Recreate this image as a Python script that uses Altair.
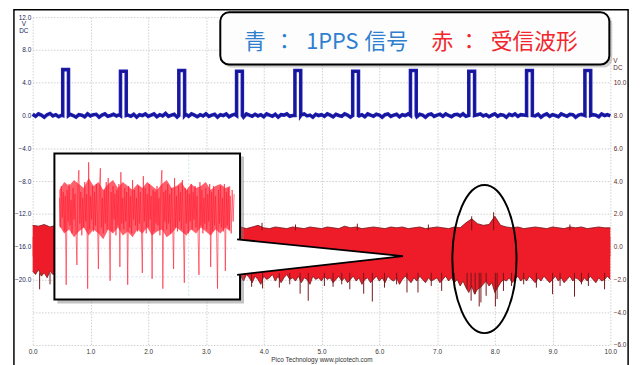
import altair as alt
import pandas as pd

# ---------------- data ----------------
time_ticks = [0, 1, 2, 3, 4, 5, 6, 7, 8, 9, 10]
left_ticks = [12, 8, 4, 0, -4, -8, -12, -16, -20, -24, -28]
right_ticks = [10, 8, 6, 4, 2, 0, -2, -4, -6]

# blue: 1PPS signal (left axis, V), baseline samples every 0.05 s
blue_step = 0.05
blue_base = [
    0.15, -0.10, 0.20, 0.05, -0.20, 0.10, 0.25, -0.05, 0.10, -0.15,
    0.05, 0.20, -0.10, 0.15, 0.00, -0.20, 0.10, 0.05, -0.15, 0.20,
    -0.05, 0.10, 0.15, -0.20, 0.05, 0.20, -0.10, 0.00, 0.15, -0.05,
    0.10, -0.15, 0.20, 0.05, -0.10, 0.15, -0.20, 0.10, 0.00, 0.20,
    -0.10, 0.05, 0.20, -0.15, 0.10, -0.05, 0.25, -0.10, 0.05, 0.15,
    -0.20, 0.10, 0.00, 0.15, -0.10, 0.20, 0.05, -0.15, 0.10, -0.05,
    0.20, -0.10, 0.05, 0.15, -0.20, 0.10, 0.00, 0.20, -0.15, 0.05,
    0.15, -0.05, 0.10, -0.20, 0.20, 0.05, -0.10, 0.15, -0.05, 0.10,
    -0.15, 0.20, 0.05, -0.10, 0.15, -0.20, 0.10, 0.05, 0.20, -0.10,
    0.00, 0.15, -0.15, 0.10, 0.20, -0.05, 0.05, -0.20, 0.15, 0.00,
    0.10, -0.10, 0.20, 0.05, -0.15, 0.15, 0.00, -0.10, 0.20, 0.05,
    -0.20, 0.10, 0.15, -0.05, 0.10, -0.15, 0.20, 0.05, -0.10, 0.15,
    0.05, -0.20, 0.10, 0.20, -0.10, 0.05, 0.15, -0.15, 0.10, 0.00,
    0.20, -0.05, 0.10, -0.15, 0.15, 0.05, -0.20, 0.10, 0.20, -0.10,
    0.05, 0.15, -0.10, 0.20, 0.00, -0.15, 0.10, 0.15, -0.05, 0.20,
    -0.10, 0.05, 0.15, -0.20, 0.10, 0.20, -0.05, 0.10, -0.15, 0.05,
    0.20, -0.10, 0.10, 0.05, -0.20, 0.15, 0.00, 0.20, -0.10, 0.10,
    0.05, -0.15, 0.20, 0.10, -0.05, 0.15, -0.20, 0.05, 0.20, -0.10,
    0.10, 0.00, -0.15, 0.20, 0.05, -0.10, 0.15, 0.10, -0.20, 0.05,
    0.15, -0.05, 0.20, -0.10, 0.10, 0.05, -0.15, 0.20, 0.00, 0.10,
    -0.05,
]
pulse_start = [0.52, 1.52, 2.53, 3.53, 4.54, 5.54, 6.54, 7.55, 8.55, 9.56]
pulse_width = 0.10
pulse_top = [5.6, 5.4, 5.5, 5.4, 5.5, 5.4, 5.5, 5.4, 5.5, 5.5]

# red: received waveform (right axis, V)
red_top_step = 0.1
red_top = [
    1.30, 1.25, 1.35, 1.20, 1.30, 1.25, 1.20, 1.30, 1.25, 1.20,
    1.20, 1.25, 1.15, 1.20, 1.30, 1.20, 1.15, 1.25, 1.20, 1.15,
    1.20, 1.15, 1.25, 1.20, 1.15, 1.20, 1.25, 1.15, 1.20, 1.20,
    1.15, 1.20, 1.25, 1.15, 1.20, 1.15, 1.20, 1.10, 1.20, 1.30,
    1.15, 1.10, 1.20, 1.15, 1.10, 1.20, 1.15, 1.10, 1.20, 1.15,
    1.10, 1.20, 1.15, 1.10, 1.25, 1.15, 1.20, 1.10, 1.15, 1.20,
    1.15, 1.10, 1.20, 1.15, 1.20, 1.10, 1.15, 1.20, 1.10, 1.15,
    1.20, 1.15, 1.10, 1.20, 1.15, 1.45, 1.70, 1.40, 1.30, 1.35,
    1.85, 1.30, 1.20, 1.15, 1.20, 1.10, 1.15, 1.20, 1.15, 1.10,
    1.20, 1.15, 1.10, 1.20, 1.15, 1.20, 1.10, 1.15, 1.20, 1.15,
    1.15,
]
red_bot_step = 0.05
red_bot = [
    -1.5, -1.7, -1.4, -1.8, -1.6, -1.9, -1.5, -1.7, -1.6, -1.8,
    -1.6, -1.9, -1.7, -1.5, -1.8, -1.7, -2.0, -1.6, -1.8, -1.7,
    -1.8, -1.6, -1.9, -1.7, -1.8, -1.6, -2.0, -1.7, -1.8, -1.9,
    -1.7, -1.9, -1.6, -1.8, -2.0, -1.7, -1.8, -1.6, -1.9, -1.7,
    -1.8, -1.7, -2.0, -1.6, -1.9, -1.8, -1.7, -2.0, -1.6, -1.8,
    -1.9, -1.7, -1.8, -2.0, -1.6, -1.8, -1.9, -1.7, -1.8, -1.6,
    -1.8, -2.0, -1.7, -1.9, -1.6, -1.8, -2.0, -1.7, -1.9, -1.8,
    -1.7, -1.9, -1.8, -2.1, -1.7, -1.9, -2.2, -1.8, -2.0, -2.3,
    -1.8, -2.0, -1.9, -1.7, -2.1, -1.8, -2.2, -1.9, -1.7, -2.0,
    -1.9, -2.1, -1.8, -2.2, -1.9, -2.0, -2.3, -1.8, -2.0, -1.9,
    -2.1, -1.8, -2.0, -1.9, -2.2, -2.0, -1.8, -2.1, -1.9, -2.2,
    -2.0, -1.8, -2.1, -1.9, -2.3, -2.0, -1.9, -2.2, -2.0, -1.8,
    -2.1, -1.9, -2.2, -1.8, -2.0, -2.1, -1.9, -2.3, -2.0, -1.8,
    -2.0, -2.2, -1.9, -2.1, -1.8, -2.0, -2.2, -1.9, -2.1, -2.0,
    -1.9, -2.2, -2.0, -1.8, -2.1, -1.9, -2.2, -2.0, -2.4, -2.1,
    -2.5, -2.8, -2.4, -2.9, -2.6, -2.5, -2.3, -2.1, -2.4, -2.2,
    -2.8, -2.5, -2.2, -2.0, -2.1, -1.9, -2.2, -2.0, -1.8, -2.1,
    -1.9, -2.1, -1.8, -2.0, -2.2, -1.9, -2.1, -1.8, -2.0, -2.2,
    -2.0, -1.8, -2.1, -1.9, -2.2, -2.0, -1.8, -2.1, -1.9, -2.0,
    -2.2, -1.9, -2.1, -1.8, -2.0, -2.2, -1.9, -2.1, -2.0, -1.8,
    -2.0,
]
spike_t = [0.12, 0.30, 3.79, 3.98, 4.27, 4.45, 4.63, 4.77, 5.05, 5.20,
           5.35, 5.49, 5.73, 5.88, 6.09, 6.30, 6.48, 6.67, 6.90, 7.08,
           7.30, 7.52, 7.59, 7.66, 7.73, 7.76, 7.85, 8.01, 8.04, 8.15,
           8.29, 8.50, 8.72, 9.00, 9.13, 9.38, 9.50, 9.62, 9.90]
spike_v = [-2.6, -2.3, -2.45, -2.55, -2.5, -2.3, -2.87, -3.3, -2.4, -2.45,
           -2.3, -2.6, -2.87, -3.35, -2.5, -2.3, -2.8, -2.8, -2.4, -2.7,
           -2.4, -2.6, -3.3, -2.9, -3.65, -3.4, -3.0, -3.65, -3.2, -2.7,
           -2.4, -2.3, -2.5, -2.9, -2.4, -3.05, -2.3, -2.4, -2.6]
up_spike_t = [3.97, 4.55, 5.62, 6.85, 7.60, 7.98, 9.30]
up_spike_v = [1.45, 1.35, 1.40, 1.35, 1.85, 2.10, 1.35]

# zoomed inset of the received waveform (relative units)
inset_noise = [
    0.6, -0.9, 1.2, -0.4, 0.9, -1.1, 0.7, -3.8, 1.0, -0.6,
    1.3, -0.8, 0.5, -1.2, 1.1, -0.5, 0.8, -1.0, -2.8, 1.2,
    2.0, -0.7, 0.9, -1.3, 0.6, -0.9, 1.4, -0.6, 0.8, -4.0,
    2.4, -1.0, 0.7, -0.5, 1.2, -1.1, 0.9, -0.8, 1.3, -0.4,
    -3.0, 1.1, 2.1, -0.9, 0.6, -1.2, 1.0, -0.7, 1.4, -1.0,
    1.6, -0.6, -3.6, 0.9, -1.1, 1.2, -0.5, 0.8, -1.3, 1.0,
    -0.8, 1.3, -2.9, 1.9, -0.7, 0.6, -1.0, 1.1, -0.6, 0.9,
    -3.8, 1.2, -0.9, 0.7, -1.2, 1.5, -0.5, 1.0, -0.8, 0.6,
    -1.1, 1.2, -0.7, 0.9, -1.0, -3.2, 1.7, -0.6, 1.1, -1.2,
    0.8, -0.9, 1.3, -0.5, 0.7, -3.5, 1.0, -1.1, 0.9, -0.7,
    1.2, -0.8, 0.6, -1.3, 1.1, 2.0, -4.0, 0.9, -0.6, 1.0,
    -1.0, 1.3, -0.7, 0.8, -1.2, 1.1, -0.5, -3.0, 1.6, -0.9,
    0.7, -1.1, 1.2, -0.6, 0.9, -1.0, 1.5, -0.8, -3.7, 1.1,
    -0.7, 1.0, -1.2, 0.8, -0.6, 1.3, -1.0, 0.9, -0.5, 1.2,
    -0.9, 0.7, -1.1, -3.3, 1.4, -0.8, 1.0, -1.2, 0.6, -0.7,
    1.1, -1.0, 0.8, -0.6, 1.3, -2.9, 0.9, -1.1, 1.2, -0.8,
    0.7, -1.0, -4.0, 1.0, -0.7, 1.2, -0.9, 0.6, -1.1, 1.3,
    -3.1, 0.9, -0.8, 1.1, -1.0, 0.7, -1.2, 1.0, -0.6, 0.8,
]
# dense core of the inset trace, every 5 samples
inset_env_step = 5
inset_upper = [1.0, 1.4, 1.2, 1.5, 1.3, 1.1, 1.6, 1.2, 1.4, 1.0, 1.3, 1.5,
               1.1, 1.4, 1.2, 1.0, 1.3, 1.1, 1.4, 1.2, 1.0, 1.3, 1.5, 1.1,
               1.2, 1.4, 1.0, 1.3, 1.1, 1.2, 1.4, 1.0, 1.2, 1.3, 1.1, 1.2]
inset_lower = [-0.8, -1.2, -1.0, -1.4, -1.1, -0.9, -1.3, -1.0, -1.2, -1.5, -1.0, -1.2,
               -0.9, -1.3, -1.1, -1.4, -1.0, -1.2, -0.9, -1.3, -1.1, -1.0, -1.4, -1.2,
               -0.9, -1.1, -1.3, -1.0, -1.2, -0.9, -1.1, -1.3, -1.0, -1.2, -0.9, -1.1]

title_blue = ["青", "：", "1PPS", "信号"]
title_red = ["赤", "：", "受信波形"]
footer = "Pico Technology   www.picotech.com"

# ---------------- tables ----------------
rows = []
for i, v in enumerate(blue_base):
    t = round(i * blue_step, 4)
    if any(s - 0.01 <= t <= s + pulse_width + 0.01 for s in pulse_start):
        continue
    rows.append((t, 0, v))
for s, top in zip(pulse_start, pulse_top):
    rows += [(s, 0, 0.0), (s, 1, top), (s + pulse_width, 0, top), (s + pulse_width, 1, 0.0)]
rows.sort(key=lambda r: (r[0], r[1]))
blue_df = pd.DataFrame({"t": [r[0] for r in rows], "v": [r[2] for r in rows], "i": list(range(len(rows)))})

top_df = pd.DataFrame({"t": [round(i * red_top_step, 4) for i in range(len(red_top))], "v": red_top})
bot_df = pd.DataFrame({"t": [round(i * red_bot_step, 4) for i in range(len(red_bot))], "v": red_bot})
spk_df = pd.DataFrame({"t": spike_t, "v": spike_v})
uspk_df = pd.DataFrame({"t": up_spike_t, "v": up_spike_v})
ins_df = pd.DataFrame({"i": list(range(len(inset_noise))), "v": inset_noise})
env_df = pd.DataFrame({"i": [k * inset_env_step for k in range(len(inset_upper))],
                       "hi": inset_upper, "lo": inset_lower})
one = pd.DataFrame({"k": [0]})

# ---------------- layout ----------------
W, H = 585, 332
X0, Y0 = 33, 15  # page position of the plot origin


def px(x):
    return x - X0


def py(y):
    return y - Y0


GRID = dict(gridColor="#c4c4c4", gridDash=[1.5, 1.5], gridWidth=0.8)
LBL = dict(labelFont="Liberation Sans", labelFontSize=6.5, labelFlush=False, labelOverlap=False,
           ticks=False, domain=False, title=None)

x_axis = alt.Axis(values=time_ticks, format=".1f", labelColor="#333333", labelPadding=4,
                  grid=True, orient="bottom", **GRID, **LBL)
left_axis = alt.Axis(values=left_ticks, labelExpr="datum.value < -21 ? '' : format(datum.value, '.1f')",
                     labelColor="#22285a", labelPadding=2, grid=True, orient="left", **GRID, **LBL)
right_axis = alt.Axis(values=right_ticks, format=".1f", labelColor="#5a2a2a", labelPadding=3,
                      grid=False, orient="right", **LBL)

xs = alt.Scale(domain=[0, 10], nice=False, zero=False)
ys_left = alt.Scale(domain=[-28, 12], nice=False, zero=False)
ys_right = alt.Scale(domain=[-6, 14], nice=False, zero=False)

layers = []

# blue trace
layers.append(alt.Chart(blue_df).mark_line(color="#1c1cb4", strokeWidth=3.6).encode(
    x=alt.X("t:Q", scale=xs, axis=x_axis),
    y=alt.Y("v:Q", scale=ys_left, axis=left_axis),
    order="i:Q"))
layers.append(alt.Chart(blue_df).mark_line(color="#0c0c48", strokeWidth=0.8, opacity=0.6).encode(
    x=alt.X("t:Q", scale=xs, axis=None),
    y=alt.Y("v:Q", scale=ys_left, axis=None),
    order="i:Q"))

# red band
RED = "#ee1c28"
DARK = "#74161a"
layers.append(alt.Chart(top_df).mark_area(color=RED, opacity=1).encode(
    x=alt.X("t:Q", scale=xs, axis=None),
    y=alt.Y("v:Q", scale=ys_right, axis=right_axis),
    y2=alt.datum(-0.6)))
layers.append(alt.Chart(bot_df).mark_area(color=RED, opacity=1).encode(
    x=alt.X("t:Q", scale=xs, axis=None),
    y=alt.Y("v:Q", scale=ys_right, axis=None),
    y2=alt.datum(0.6)))
layers.append(alt.Chart(top_df).mark_line(color=DARK, strokeWidth=0.8).encode(
    x=alt.X("t:Q", scale=xs, axis=None),
    y=alt.Y("v:Q", scale=ys_right, axis=None)))
layers.append(alt.Chart(bot_df).mark_line(color=DARK, strokeWidth=0.8).encode(
    x=alt.X("t:Q", scale=xs, axis=None),
    y=alt.Y("v:Q", scale=ys_right, axis=None)))
layers.append(alt.Chart(spk_df).mark_rule(color=DARK, strokeWidth=1).encode(
    x=alt.X("t:Q", scale=xs, axis=None),
    y=alt.Y("v:Q", scale=ys_right, axis=None),
    y2=alt.datum(-1.6)))
layers.append(alt.Chart(uspk_df).mark_rule(color=DARK, strokeWidth=1).encode(
    x=alt.X("t:Q", scale=xs, axis=None),
    y=alt.Y("v:Q", scale=ys_right, axis=None),
    y2=alt.datum(1.0)))


def rect(x1, y1, x2, y2, **kw):
    return alt.Chart(one).mark_rect(**kw).encode(
        x=alt.value(px(x1)), x2=alt.value(px(x2)), y=alt.value(py(y1)), y2=alt.value(py(y2)))


def text(x, y, s, **kw):
    return alt.Chart(one).mark_text(text=s, **kw).encode(x=alt.value(px(x)), y=alt.value(py(y)))


def rule(x1, y1, x2, y2, **kw):
    return alt.Chart(one).mark_rule(**kw).encode(
        x=alt.value(px(x1)), x2=alt.value(px(x2)), y=alt.value(py(y1)), y2=alt.value(py(y2)))


# inset box
layers.append(rect(58, 156, 247, 305, color="#7a7a7a", opacity=0.45))
layers.append(rect(55, 153, 243, 301, fill="white", stroke="black", strokeWidth=2))
for gy in [249, 278]:
    layers.append(rule(57, gy, 241, gy, color="#c6d8e6", strokeDash=[2, 2], strokeWidth=0.8))
layers.append(rule(191, 155, 191, 299, color="#c6d8e6", strokeDash=[2, 2], strokeWidth=0.8))

N = len(inset_noise)
ix0, ix1 = px(60), px(237)
a = -ix0 * (N - 1) / (ix1 - ix0)
b = a + W * (N - 1) / (ix1 - ix0)
lo = -(H - py(210)) / 20.0
hi = lo + H / 20.0
ixs = alt.Scale(domain=[a, b], nice=False, zero=False)
iys = alt.Scale(domain=[lo, hi], nice=False, zero=False)
layers.append(alt.Chart(env_df).mark_area(color="#ff2234", opacity=0.72).encode(
    x=alt.X("i:Q", scale=ixs, axis=None),
    y=alt.Y("hi:Q", scale=iys, axis=None),
    y2="lo:Q"))
layers.append(alt.Chart(ins_df).mark_line(color="#ff1e34", strokeWidth=0.9, opacity=0.7).encode(
    x=alt.X("i:Q", scale=ixs, axis=None),
    y=alt.Y("v:Q", scale=iys, axis=None)))

# callout wedge
r = 165.0
callout = "M -0.018,-0.109 L 1,-0.006 L -0.018,0.109"
layers.append(alt.Chart(one).mark_point(shape=callout, size=(2 * r) ** 2, filled=True, fill="white",
                                        stroke="black", strokeWidth=1.8, opacity=1, fillOpacity=1).encode(
    x=alt.value(px(243)), y=alt.value(py(258))))

# ellipse
ell = ("M 0,-1 C 0.2393,-1 0.4333,-0.5523 0.4333,0 C 0.4333,0.5523 0.2393,1 0,1 "
       "C -0.2393,1 -0.4333,0.5523 -0.4333,0 C -0.4333,-0.5523 -0.2393,-1 0,-1 Z")
layers.append(alt.Chart(one).mark_point(shape=ell, size=150 ** 2, filled=False, stroke="black",
                                        strokeWidth=2, opacity=1).encode(
    x=alt.value(px(490.5)), y=alt.value(py(260))))

# title box
layers.append(rect(226, 13, 620, 66, color="#8a8a8a", opacity=0.4, cornerRadius=9))
layers.append(rect(223, 10, 617, 63, fill="#fdfdfd", stroke="black", strokeWidth=2, cornerRadius=9))
TF = dict(font="Noto Sans CJK JP", fontSize=22, align="left", baseline="middle")
for s, x in zip(title_blue, [247, 277, 310, 369]):
    layers.append(text(x, 40, s, color="#2f7fcf", **TF))
for s, x in zip(title_red, [437, 464, 497]):
    layers.append(text(x, 40, s, color="#f2262c", **TF))

# unit labels and footer
SF = dict(font="Liberation Sans", fontSize=6.5, baseline="middle")
layers.append(text(24, 22, "V", color="#22285a", align="center", **SF))
layers.append(text(24, 29, "DC", color="#22285a", align="center", **SF))
layers.append(text(621, 59, "V", color="#5a2a2a", align="left", **SF))
layers.append(text(621, 67, "DC", color="#5a2a2a", align="left", **SF))
layers.append(text(326, 362, footer, color="#333333", align="center", **SF))

# outer frame
layers.append(rect(14, 7.5, 636, 372, fillOpacity=0, stroke="black", strokeWidth=1.5))

chart = alt.layer(*layers).resolve_scale(x="independent", y="independent").properties(
    width=W, height=H,
    padding={"left": 25, "top": 7, "right": 26, "bottom": 18},
    autosize=alt.AutoSizeParams(type="none"),
    background="white",
).configure_view(stroke=None)

chart.save("out.html", embed_options={"renderer": "svg", "actions": False})
